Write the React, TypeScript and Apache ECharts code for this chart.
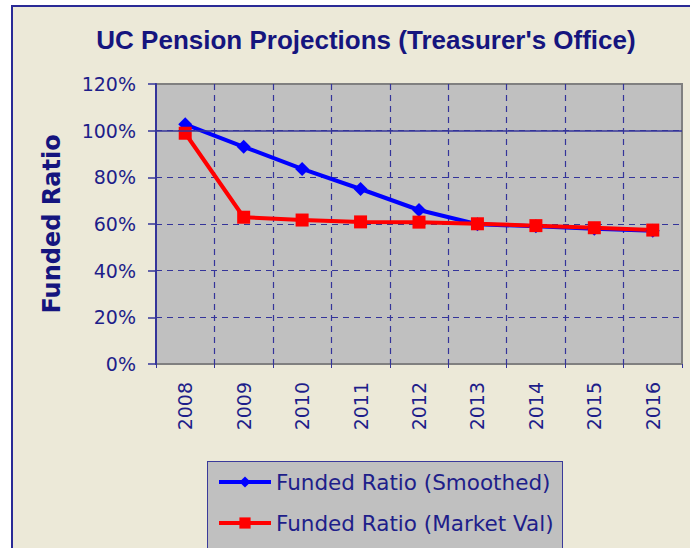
import React, { useEffect, useRef } from "react";
import * as echarts from "echarts";

const years = ["2008", "2009", "2010", "2011", "2012", "2013", "2014", "2015", "2016"];
const smoothed = [102.7, 93.1, 83.6, 75.0, 66.0, 59.9, 59.0, 58.0, 57.1];
const marketVal = [98.9, 62.9, 61.7, 60.9, 60.8, 60.1, 59.3, 58.4, 57.4];
const seriesNames = ["Funded Ratio (Smoothed)", "Funded Ratio (Market Val)"];
const titleText = "UC Pension Projections (Treasurer's Office)";
const yAxisName = "Funded Ratio";

const NAVY = "#1E1E8A";
const GRID = "#34349A";
const FONT = "DejaVu Sans";

export default function App() {
  const ref = useRef<HTMLDivElement>(null);
  useEffect(() => {
    document.body.style.margin = "0";
    const chart = echarts.init(ref.current!, undefined, { renderer: "svg" });
    const clear = "rgba(0,0,0,0)";
    chart.setOption({
      animation: false,
      title: {
        text: titleText,
        left: 361,
        top: 22,
        textAlign: "center",
        textStyle: { fontFamily: "Liberation Sans", fontSize: 26, fontWeight: "bold", color: "#15157E" },
      },
      grid: {
        left: 156,
        top: 84,
        width: 526,
        height: 280,
        show: true,
        backgroundColor: "#C0C0C0",
        borderColor: "#808080",
        borderWidth: 2,
      },
      legend: {
        orient: "vertical",
        left: 207,
        top: 461,
        height: 300,
        data: seriesNames,
        padding: [10, 9, 0, 10],
        itemWidth: 52,
        itemHeight: 14,
        itemGap: 19,
        lineStyle: { width: 4 },
        textStyle: { fontFamily: FONT, fontSize: 21.5, color: NAVY },
      },
      xAxis: {
        type: "category",
        data: years,
        boundaryGap: true,
        axisLine: { show: false },
        axisTick: { show: true, interval: 0, length: 4, lineStyle: { color: GRID, width: 1 } },
        axisLabel: { rotate: 90, margin: 18, fontFamily: FONT, fontSize: 19, color: NAVY, interval: 0 },
        splitLine: {
          show: true,
          interval: 0,
          lineStyle: {
            type: [6, 5],
            width: 1.2,
            color: [clear, GRID, GRID, GRID, GRID, GRID, GRID, GRID, GRID, clear],
          },
        },
      },
      yAxis: {
        type: "value",
        min: 0,
        max: 120,
        interval: 20,
        name: yAxisName,
        nameLocation: "middle",
        nameRotate: 90,
        nameGap: 92,
        nameTextStyle: { fontFamily: FONT, fontSize: 24, fontWeight: "bold", color: "#15157E" },
        axisLine: { show: true, lineStyle: { color: GRID, width: 2 } },
        axisTick: { show: true, length: 8, lineStyle: { color: GRID, width: 1.5 } },
        axisLabel: {
          margin: 20,
          fontFamily: FONT,
          fontSize: 19,
          color: NAVY,
          formatter: (v: number) => v + "%",
        },
        splitLine: {
          show: true,
          lineStyle: {
            type: [6, 5],
            width: 1.2,
            color: [clear, GRID, GRID, GRID, GRID, GRID, clear],
          },
        },
      },
      series: [
        {
          name: seriesNames[0],
          type: "line",
          data: smoothed,
          symbol: "diamond",
          symbolSize: 14,
          lineStyle: { color: "#0000FF", width: 4 },
          itemStyle: { color: "#0000FF" },
          markLine: {
            silent: true,
            symbol: ["none", "none"],
            label: { show: false },
            lineStyle: { color: GRID, width: 1.5, type: "solid" },
            data: [{ yAxis: 100 }],
          },
        },
        {
          name: seriesNames[1],
          type: "line",
          data: marketVal,
          symbol: "rect",
          symbolSize: 13,
          lineStyle: { color: "#FF0000", width: 4 },
          itemStyle: { color: "#FF0000" },
        },
      ],
    });
    return () => chart.dispose();
  }, []);

  return (
    <div style={{ position: "relative", width: 690, height: 548, overflow: "hidden", background: "#FFFFFF" }}>
      <div
        style={{
          position: "absolute",
          left: 11,
          top: 5,
          width: 720,
          height: 620,
          border: "2px solid #2A2A96",
          background: "#ECE9D8",
        }}
      />
      <div
        style={{
          position: "absolute",
          left: 207,
          top: 461,
          width: 354,
          height: 120,
          border: "1px solid #3A3A9A",
          background: "#C0C0C0",
        }}
      />
      <div ref={ref} style={{ position: "absolute", left: 0, top: 0, width: 690, height: 548 }} />
    </div>
  );
}
